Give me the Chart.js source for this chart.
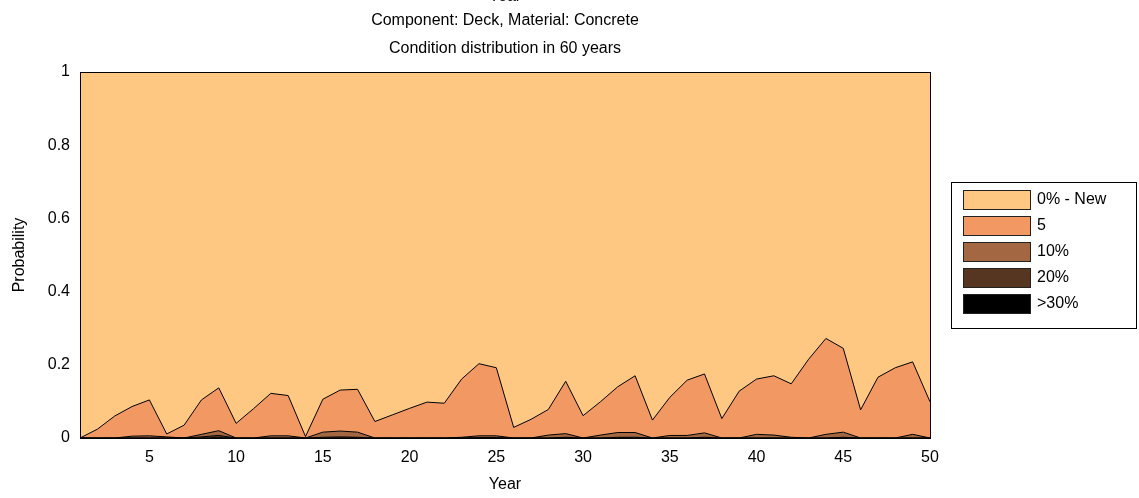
<!DOCTYPE html>
<html lang="en">
<head>
    <script src="https://cdn.jsdelivr.net/npm/chart.js"></script>
    <meta charset="UTF-8">
    <title>Condition distribution</title>
    <style>
        body { margin: 0; background: #fff; overflow: hidden; }
        #wrap { position: relative; width: 1139px; height: 498px; }
    </style>
</head>
<body>
    <div id="wrap">
        <canvas id="myChart"></canvas>
    </div>
    <script>
        const years = [1, 2, 3, 4, 5, 6, 7, 8, 9, 10, 11, 12, 13, 14, 15, 16, 17, 18, 19, 20,
            21, 22, 23, 24, 25, 26, 27, 28, 29, 30, 31, 32, 33, 34, 35, 36, 37, 38, 39, 40,
            41, 42, 43, 44, 45, 46, 47, 48, 49, 50];
        const xTicks = [5, 10, 15, 20, 25, 30, 35, 40, 45, 50];
        const yTicks = [0, 0.2, 0.4, 0.6, 0.8, 1];
        const titleLines = ['Year', 'Component: Deck, Material: Concrete', 'Condition distribution in 60 years'];
        const titleY = [-3, 21, 49];

        // condition states, bottom of the stack first
        const layerNames = ['>30%', '20%', '10%', '5', '0% - New'];
        const layerColors = ['#000000', '#563521', '#A36842', '#F29963', '#FEC782'];

        const pOver30 = [0, 0, 0, 0, 0, 0, 0, 0, 0.001, 0, 0, 0, 0, 0, 0, 0, 0, 0, 0, 0,
            0, 0, 0, 0, 0, 0, 0, 0, 0, 0, 0, 0, 0, 0, 0, 0, 0, 0, 0, 0,
            0, 0, 0, 0, 0, 0, 0, 0, 0, 0];
        const p20 = [0, 0, 0, 0, 0, 0, 0, 0.003, 0.006, 0, 0, 0, 0, 0, 0.002, 0.003, 0.002, 0, 0, 0,
            0, 0, 0, 0.001, 0.001, 0, 0, 0, 0.002, 0, 0, 0.002, 0.002, 0, 0, 0, 0.002, 0, 0, 0,
            0, 0, 0, 0, 0.002, 0, 0, 0, 0, 0];
        const p10 = [0, 0, 0, 0.005, 0.006, 0.003, 0, 0.007, 0.013, 0, 0, 0.006, 0.006, 0, 0.014, 0.016, 0.014, 0, 0, 0,
            0, 0, 0.002, 0.005, 0.005, 0, 0, 0.008, 0.010, 0, 0.008, 0.013, 0.013, 0, 0.007, 0.007, 0.012, 0, 0, 0.010,
            0.008, 0.002, 0, 0.010, 0.014, 0, 0, 0, 0.010, 0];
        const p5 = [0, 0.024, 0.060, 0.081, 0.098, 0.008, 0.035, 0.094, 0.117, 0.040, 0.080, 0.116, 0.110, 0.004, 0.090, 0.112, 0.117, 0.045, 0.063, 0.081,
            0.098, 0.095, 0.159, 0.197, 0.186, 0.029, 0.051, 0.070, 0.143, 0.061, 0.091, 0.125, 0.155, 0.049, 0.104, 0.151, 0.161, 0.053, 0.128, 0.151,
            0.162, 0.146, 0.215, 0.262, 0.229, 0.077, 0.166, 0.192, 0.198, 0.099];
        const pNew = [1, 0.976, 0.940, 0.914, 0.896, 0.989, 0.965, 0.896, 0.863, 0.960, 0.920, 0.878, 0.884, 0.996, 0.894, 0.869, 0.867, 0.955, 0.937, 0.919,
            0.902, 0.905, 0.839, 0.797, 0.808, 0.971, 0.949, 0.922, 0.845, 0.939, 0.901, 0.860, 0.830, 0.951, 0.889, 0.842, 0.825, 0.947, 0.872, 0.839,
            0.830, 0.852, 0.785, 0.728, 0.755, 0.923, 0.834, 0.808, 0.792, 0.901];
        const layerValues = [pOver30, p20, p10, p5, pNew];

        const FONT = 'Liberation Sans, Arial, sans-serif';

        // box round the plot area + the three title lines
        const frame = {
            id: 'frame',
            afterDatasetsDraw(chart) {
                const { ctx, chartArea: a } = chart;
                ctx.save();
                ctx.strokeStyle = '#000';
                ctx.lineWidth = 1;
                ctx.strokeRect(Math.round(a.left) + 0.5, Math.round(a.top) + 0.5,
                    Math.round(a.right - a.left), Math.round(a.bottom - a.top));
                ctx.fillStyle = '#000';
                ctx.font = '16px ' + FONT;
                ctx.textAlign = 'center';
                ctx.textBaseline = 'middle';
                const cx = (a.left + a.right) / 2;
                titleLines.forEach((t, i) => ctx.fillText(t, cx, titleY[i]));
                ctx.restore();
            }
        };

        // boxed legend on the right, top entry = top layer
        const boxLegend = {
            id: 'boxLegend',
            afterDraw(chart) {
                const { ctx, chartArea: a } = chart;
                const x0 = a.right + 21, w = 185, h = 146;
                const y0 = (a.top + a.bottom) / 2 - h / 2;
                ctx.save();
                ctx.fillStyle = '#fff';
                ctx.fillRect(x0, y0, w, h);
                ctx.strokeStyle = '#000';
                ctx.lineWidth = 1;
                ctx.strokeRect(Math.round(x0) + 0.5, Math.round(y0) + 0.5, w, h);
                ctx.font = '16px ' + FONT;
                ctx.textBaseline = 'middle';
                const ds = chart.data.datasets.slice().reverse();
                ds.forEach((d, i) => {
                    const yy = Math.round(y0 + 8 + i * 26);
                    ctx.fillStyle = d.backgroundColor;
                    ctx.fillRect(x0 + 12, yy, 67, 19);
                    ctx.strokeStyle = '#222';
                    ctx.strokeRect(x0 + 12.5, yy + 0.5, 67, 19);
                    ctx.fillStyle = '#000';
                    ctx.fillText(d.label, x0 + 86, yy + 10);
                });
                ctx.restore();
            }
        };

        const datasets = layerNames.map((name, i) => ({
            label: name,
            data: layerValues[i],
            backgroundColor: layerColors[i],
            borderColor: '#000',
            borderWidth: 1,
            pointRadius: 0,
            tension: 0,
            fill: i === 0 ? 'origin' : '-1'
        }));

        const ctx = document.getElementById('myChart');
        new Chart(ctx, {
            type: 'line',
            data: { labels: years, datasets: datasets },
            options: {
                responsive: true,
                maintainAspectRatio: false,
                animation: false,
                layout: { padding: { top: 72, right: 209, left: 0, bottom: 0 } },
                scales: {
                    x: {
                        type: 'linear',
                        min: 1,
                        max: 50,
                        afterBuildTicks: s => { s.ticks = xTicks.map(v => ({ value: v })); },
                        afterFit: s => { s.height = 60; },
                        grid: { display: false },
                        border: { display: false },
                        ticks: { color: '#000', font: { size: 16, family: FONT }, padding: 2, maxRotation: 0 },
                        title: { display: true, text: 'Year', color: '#000', font: { size: 16, family: FONT }, padding: { top: 0, bottom: 4 } }
                    },
                    y: {
                        stacked: true,
                        min: 0,
                        max: 1,
                        afterBuildTicks: s => { s.ticks = yTicks.map(v => ({ value: v })); },
                        afterFit: s => { s.width = 80; },
                        grid: { display: false },
                        border: { display: false },
                        ticks: {
                            color: '#000', font: { size: 16, family: FONT }, padding: 2,
                            callback: v => String(Math.round(v * 10) / 10)
                        },
                        title: { display: true, text: 'Probability', color: '#000', font: { size: 16, family: FONT }, padding: { top: 10, bottom: 0 } }
                    }
                },
                plugins: {
                    legend: { display: false },
                    tooltip: { enabled: false },
                    filler: { propagate: false }
                }
            },
            plugins: [frame, boxLegend]
        });
    </script>
</body>
</html>
